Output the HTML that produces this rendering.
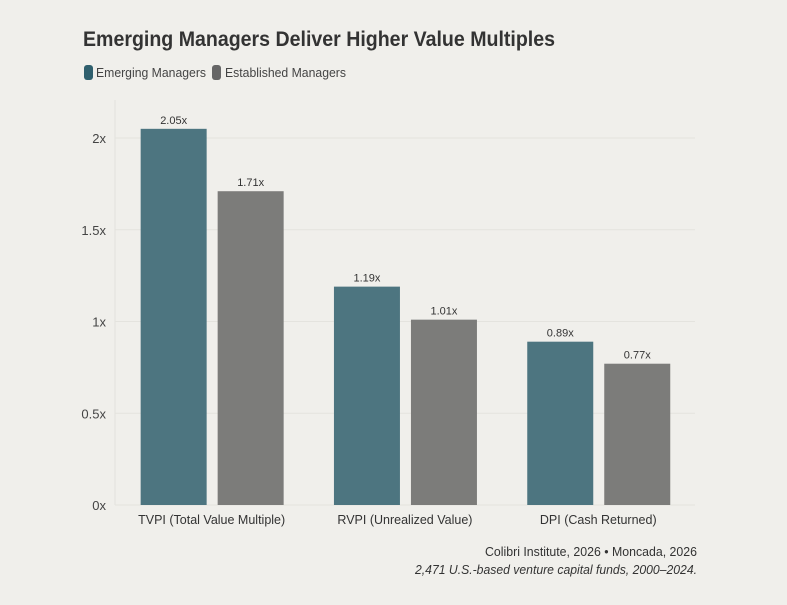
<!DOCTYPE html>
<html><head><meta charset="utf-8"><style>
body{margin:0;background:#f0efeb;}
svg{display:block;font-family:"Liberation Sans",sans-serif;}
</style></head><body>
<svg id="c" width="787" height="605" viewBox="0 0 787 605">
<rect width="787" height="605" fill="#f0efeb"/>
<text x="83" y="46" font-size="21" font-weight="bold" fill="#333" textLength="472" lengthAdjust="spacingAndGlyphs">Emerging Managers Deliver Higher Value Multiples</text>
<g>
<g><rect x="84" y="65" width="9" height="15" rx="3" fill="#2f5f6d"/><text x="96" y="77" font-size="13" fill="#444" textLength="110" lengthAdjust="spacingAndGlyphs">Emerging Managers</text></g>
<g><rect x="212" y="65" width="9" height="15" rx="3" fill="#666"/><text x="225" y="77" font-size="13" fill="#444" textLength="121" lengthAdjust="spacingAndGlyphs">Established Managers</text></g>
</g>
<g id="grid"></g><g id="bars"></g>
<text x="697" y="556" font-size="12.5" fill="#333" text-anchor="end" textLength="212" lengthAdjust="spacingAndGlyphs">Colibri Institute, 2026 • Moncada, 2026</text>
<text x="697" y="574" font-size="12.5" fill="#333" font-style="italic" text-anchor="end" textLength="282" lengthAdjust="spacingAndGlyphs">2,471 U.S.-based venture capital funds, 2000–2024.</text>
</svg>
<script>
const categories=["TVPI (Total Value Multiple)","RVPI (Unrealized Value)","DPI (Cash Returned)"];
const emerging=[2.05,1.19,0.89];
const established=[1.71,1.01,0.77];
const ticks=[0,0.5,1,1.5,2];
const tickLabels=["0x","0.5x","1x","1.5x","2x"];
const NS="http://www.w3.org/2000/svg";
const y0=505,y2=138;
const y=v=>y0-(y0-y2)*v/2;
const bandStart=115,bandW=193.3;
function mk(t,a,p){const e=document.createElementNS(NS,t);for(const k in a)e.setAttribute(k,a[k]);p.appendChild(e);return e;}
const g=document.getElementById('grid'),b=document.getElementById('bars');
const ax=mk('line',{x1:115,x2:115,y1:100,y2:505,stroke:'#e2e1dc'},g);


ticks.forEach((t,i)=>{
 const l=mk('line',{x1:115,x2:695,y1:y(t),y2:y(t),stroke:'#e4e3de'},g);
 
 
 const tx=mk('text',{x:106,y:y(t)+5,'font-size':13,fill:'#444','text-anchor':'end'},g);
 tx.textContent=tickLabels[i];
 
 
});
categories.forEach((c,i)=>{
 const cx=bandStart+bandW*(i+0.5);
 [[emerging[i],'#4d7580',cx-71,'bar-emerging'],[established[i],'#7c7c7a',cx+6,'bar-established']].forEach(([v,col,x,n])=>{
  const r=mk('rect',{x:x,y:y(v),width:66,height:y0-y(v),fill:col},b);
  
  
  const t=mk('text',{x:x+33,y:y(v)-5,'font-size':11,fill:'#333','text-anchor':'middle'},b);
  t.textContent=v.toFixed(2)+'x';
  
  
 });
 const t=mk('text',{x:cx,y:524,'font-size':12.5,fill:'#333','text-anchor':'middle'},b);
 t.textContent=c;
 
 
});
</script>
</body></html>
